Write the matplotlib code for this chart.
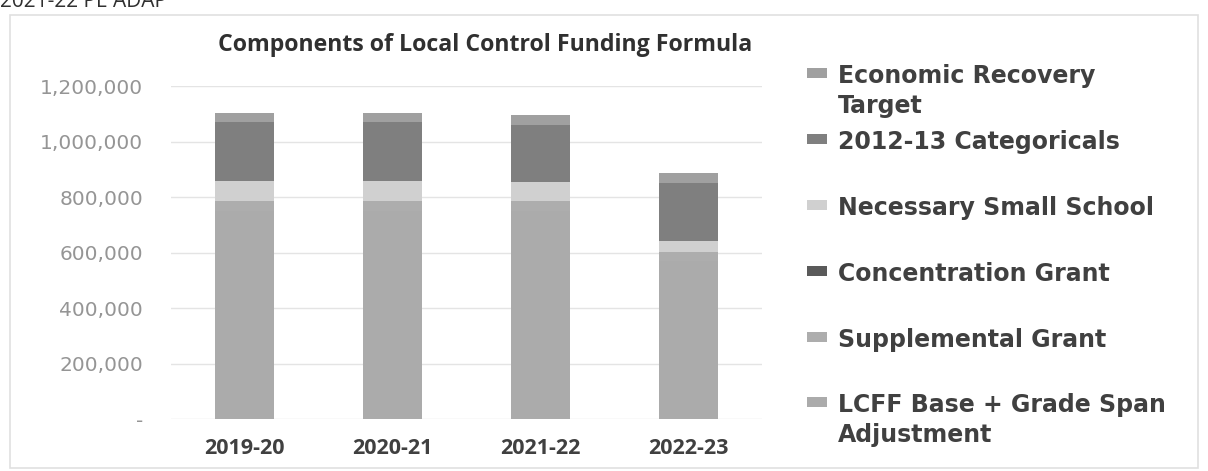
import matplotlib.pyplot as plt
from matplotlib.patches import Rectangle
from matplotlib.ticker import FuncFormatter

# componentes LCFF por año (dolares)
years = ['2019-20', '2020-21', '2021-22', '2022-23']
base_grade_span = [750000, 750000, 750000, 570000]
supplemental = [36000, 36000, 36000, 32000]
concentration = [0, 0, 0, 0]
necessary_small_school = [72000, 72000, 68000, 40000]
categoricals = [213000, 213000, 205000, 209000]
economic_recovery = [32000, 32000, 36000, 36000]

labels = ['LCFF Base + Grade Span\nAdjustment', 'Supplemental Grant',
          'Concentration Grant', 'Necessary Small School',
          '2012-13 Categoricals', 'Economic Recovery\nTarget']
series = [base_grade_span, supplemental, concentration,
          necessary_small_school, categoricals, economic_recovery]
colors = ['#ababab', '#adadad', '#5a5a5a', '#d0d0d0', '#7f7f7f', '#a0a0a0']

W, H = 1208, 471
fig = plt.figure(figsize=(W / 100, H / 100), dpi=100)
ax = fig.add_axes([171 / W, 1 - 419 / H, (762 - 171) / W, (419 - 86) / H])

bottom = [0] * len(years)
for vals, c in zip(series, colors):
    ax.bar(years, vals, width=0.4, bottom=bottom, color=c, linewidth=0)
    bottom = [b + v for b, v in zip(bottom, vals)]

ax.set_xlim(-0.5, 3.5)
ax.set_ylim(0, 1200000)
ax.set_yticks(range(0, 1200001, 200000))
ax.yaxis.set_major_formatter(FuncFormatter(lambda v, p: '-' if v == 0 else f'{int(v):,}'))
ax.grid(axis='y', color='#e4e4e4', linewidth=1)
ax.set_axisbelow(True)
for s in ax.spines.values():
    s.set_visible(False)
ax.tick_params(axis='both', length=0)
ax.tick_params(axis='y', pad=20, labelcolor='#959595', labelsize=14.5)
ax.tick_params(axis='x', pad=14, labelcolor='#404040', labelsize=15.5)
for t in ax.get_xticklabels():
    t.set_fontweight('bold')
    t.set_fontfamily('Open Sans')

fig.text(0.4015, 1 - 45 / H, 'Components of Local Control Funding Formula',
         ha='center', va='center', fontsize=16.7, fontweight='bold',
         color='#303030', family='Open Sans')

# leyenda hecha a mano, de arriba hacia abajo
leg_y = [73, 139, 205, 271, 337, 402]
for y, lab, c in zip(leg_y, labels[::-1], colors[::-1]):
    fig.add_artist(Rectangle((807 / W, 1 - (y + 5) / H), 20 / W, 10 / H,
                             transform=fig.transFigure, color=c, lw=0))
    fig.text(838 / W, 1 - (y - 9) / H, lab, ha='left', va='top',
             fontsize=17, fontweight='bold', color='#404040',
             linespacing=1.33)

# marco del grafico y texto cortado arriba
fig.add_artist(Rectangle((10 / W, 1 - 468 / H), 1188 / W, 453 / H,
                         transform=fig.transFigure, fill=False,
                         edgecolor='#e0e0e0', lw=1.2))
fig.text(0.0, 1 - 7 / H, '2021-22 PE ADAP', ha='left', va='baseline',
         fontsize=15, color='#303030', family='Open Sans')

fig.savefig('out.png', dpi=100)
